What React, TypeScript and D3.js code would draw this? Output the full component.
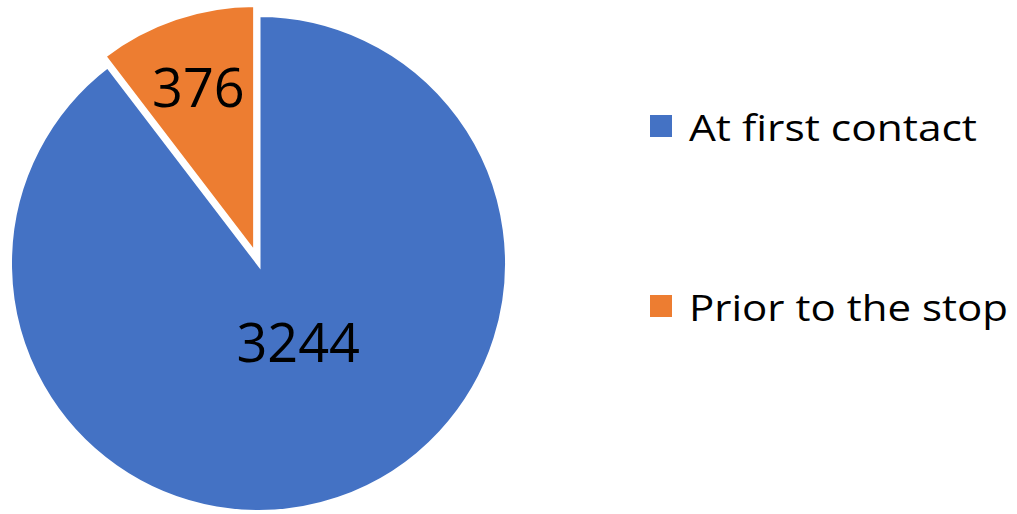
import React from "react";
import * as d3 from "d3";

const categories = ["At first contact", "Prior to the stop"];
const values = [3244, 376];
const colors = ["#4472C4", "#ED7D31"];

const W = 1017;
const H = 514;
const cx = 258.5;
const cy = 263.5;
const R = 248.5;
const explode = [0, 10.5];
const labelRadiusFrac = [0.36, 0.7];
const labelNudge: [number, number][] = [
  [11, -7],
  [-1, -3],
];
const legendTextWidth = [288, 319];

export default function App() {
  const pie = d3.pie<number>().sort(null).value((d) => d)(values);
  const arc = d3.arc<d3.PieArcDatum<number>>().innerRadius(0).outerRadius(R);
  const font = "'Open Sans', sans-serif";
  return (
    <svg
      width={W}
      height={H}
      style={{ position: "absolute", left: 0, top: 0, background: "#fff" }}
    >
      <g transform={`translate(${cx},${cy})`}>
        {pie.map((p, i) => {
          const mid = (p.startAngle + p.endAngle) / 2;
          const dx = Math.sin(mid) * explode[i];
          const dy = -Math.cos(mid) * explode[i];
          const lr = R * labelRadiusFrac[i];
          const lx = Math.sin(mid) * lr + dx + labelNudge[i][0];
          const ly = -Math.cos(mid) * lr + dy + labelNudge[i][1];
          return (
            <g key={i}>
              <path
                d={arc(p) || ""}
                transform={`translate(${dx},${dy})`}
                fill={colors[i]}
                stroke="#fff"
                strokeWidth={4}
                strokeLinejoin="miter"
              />
              <text
                x={lx}
                y={ly}
                textAnchor="middle"
                dominantBaseline="central"
                fontFamily={font}
                fontSize={54}
                fill="#000"
              >
                {values[i]}
              </text>
            </g>
          );
        })}
      </g>
      {categories.map((c, i) => {
        const y = 126 + i * 180;
        return (
          <g key={c}>
            <rect x={650} y={y - 11} width={22} height={22} fill={colors[i]} />
            <text
              x={689}
              y={y}
              dominantBaseline="central"
              fontFamily={font}
              fontSize={37}
              textLength={legendTextWidth[i]}
              lengthAdjust="spacingAndGlyphs"
              fill="#000"
            >
              {c}
            </text>
          </g>
        );
      })}
    </svg>
  );
}
